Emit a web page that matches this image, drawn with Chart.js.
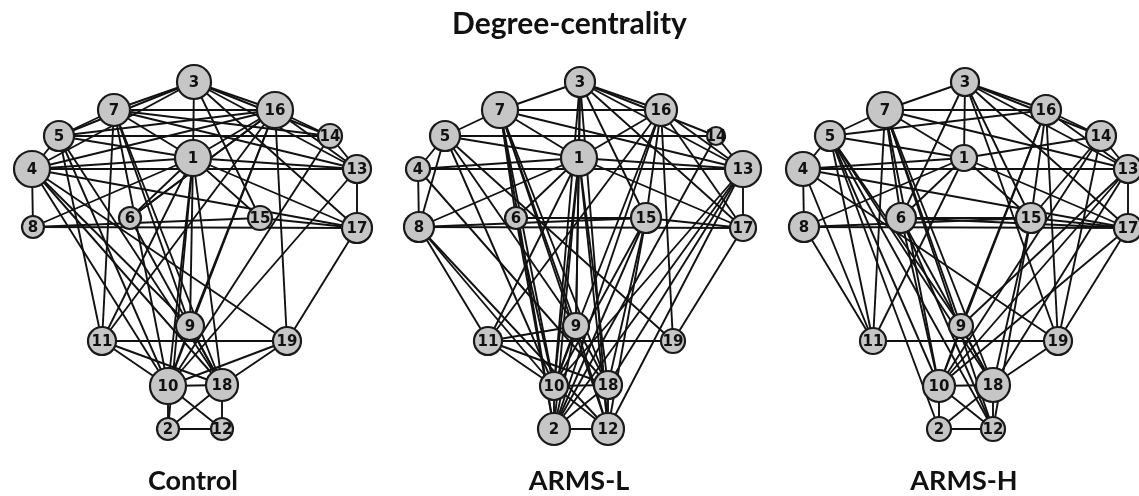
<!DOCTYPE html>
<html>
<head>
    <meta charset="UTF-8">
    <script src="https://cdn.jsdelivr.net/npm/chart.js@4.4.0/dist/chart.umd.min.js"></script>
    <style>
        body {
            margin: 0;
            background: #fff;
            font-family: Lato, sans-serif;
        }
        #page {
            position: relative;
            width: 1139px;
            height: 496px;
            overflow: hidden;
        }
        .panel {
            position: absolute;
            top: 0;
            width: 386px;
            height: 496px;
        }
        #title {
            position: absolute;
            left: 0;
            width: 1139px;
            top: 7px;
            line-height: 1;
            text-align: center;
            font-weight: 700;
            font-size: 30px;
            color: #111;
        }
        .label {
            position: absolute;
            top: 466px;
            width: 386px;
            line-height: 1;
            text-align: center;
            font-weight: 700;
            font-size: 27px;
            color: #111;
        }
    </style>
</head>
<body>
<div id="page">
    <div class="panel" style="left:0px"><canvas id="c0"></canvas></div>
    <div class="panel" style="left:386px"><canvas id="c1"></canvas></div>
    <div class="panel" style="left:771px"><canvas id="c2"></canvas></div>
    <div id="title">Degree-centrality</div>
    <div class="label" style="left:0px">Control</div>
    <div class="label" style="left:386px">ARMS-L</div>
    <div class="label" style="left:771px">ARMS-H</div>
</div>

<script>
// node layout (same for all three groups), node 1..19
const nodeIds = [1, 2, 3, 4, 5, 6, 7, 8, 9, 10, 11, 12, 13, 14, 15, 16, 17, 18, 19];
const layoutX = [193, 168, 194, 32, 59, 130, 114, 33, 190, 168, 102, 222, 357, 330, 260, 275, 357, 222, 287];
const layoutY = [158, 429, 82, 169, 136, 218, 110, 227, 326, 386, 341, 429, 169, 136, 218, 110, 228, 385, 341];

// node size ~ degree centrality
const controlSize = [18, 11, 17, 18, 15, 11, 16, 11, 14, 18, 14, 11, 14, 12, 12, 18, 15, 16, 14];
const armsLSize   = [18, 16, 15, 12, 15, 11, 18, 15, 13, 14, 14, 16, 18, 9, 15, 16, 13, 14, 12];
const armsHSize   = [13, 12, 14, 17, 15, 15, 18, 15, 12, 16, 13, 12, 14, 15, 15, 15, 14, 17, 14];

const controlEdges = [
    [3,7],[3,5],[3,1],[3,16],[3,14],[3,13],[3,17],[3,15],[3,4],
    [7,5],[7,16],[7,1],[7,14],[7,13],[7,11],[7,10],[7,18],[7,9],
    [5,4],[5,16],[5,14],[5,1],[5,11],[5,10],[5,18],
    [4,1],[4,13],[4,8],[4,16],[4,17],[4,9],[4,18],[4,10],[4,19],
    [8,1],[8,17],[8,15],
    [6,1],[6,16],[6,18],
    [1,16],[1,13],[1,17],[1,9],[1,10],[1,18],[1,11],[1,2],
    [16,14],[16,13],[16,6],[16,9],[16,10],[16,19],[16,11],
    [14,13],[14,10],[13,17],[13,10],[15,17],[15,1],[17,19],
    [11,19],[11,10],[11,18],[9,10],[9,18],[19,10],[19,18],
    [10,18],[10,2],[10,12],[18,12],[18,2],[2,12]
];
const armsLEdges = [
    [3,1],[3,16],[3,13],[3,17],[3,15],[3,14],[3,9],[3,10],[3,12],
    [7,5],[7,16],[7,1],[7,13],[7,3],[7,6],[7,10],[7,9],[7,2],[7,12],[7,18],
    [5,4],[5,8],[5,14],[5,1],[5,9],[5,10],[5,19],
    [4,1],[4,8],[4,13],[4,18],
    [8,1],[8,15],[8,17],[8,11],[8,10],[8,12],
    [6,1],[6,15],[6,2],[6,10],
    [1,16],[1,13],[1,17],[1,9],[1,10],[1,2],[1,12],[1,18],[1,11],
    [16,13],[16,17],[16,15],[16,10],[16,2],[16,19],[16,11],
    [14,13],[14,2],
    [13,17],[13,10],[13,2],[13,12],[13,18],
    [15,17],[15,10],[15,2],[15,12],[15,18],
    [17,19],[11,19],[11,10],[11,9],[11,18],
    [9,10],[9,18],[9,2],[9,12],
    [10,18],[10,2],[10,12],[18,2],[18,12],[2,12]
];
const armsHEdges = [
    [3,1],[3,16],[3,14],[3,13],[3,17],[3,15],[3,6],[3,7],[3,19],
    [7,5],[7,16],[7,1],[7,13],[7,6],[7,9],[7,10],[7,18],[7,12],
    [5,4],[5,1],[5,16],[5,11],[5,10],[5,9],[5,2],[5,18],[5,12],
    [4,1],[4,13],[4,17],[4,8],[4,19],[4,11],
    [8,1],[8,15],[8,17],[8,11],
    [6,1],[6,15],[6,17],[6,18],[6,12],[6,10],
    [1,15],[1,17],[1,14],[1,11],
    [16,14],[16,13],[16,15],[16,10],[16,9],
    [14,13],[14,15],[14,10],[14,19],
    [13,17],[13,10],[13,18],[13,9],
    [15,17],[15,12],[15,18],
    [17,19],[17,10],[11,19],[11,7],
    [9,10],[9,18],[19,18],[19,16],
    [10,18],[10,2],[10,12],[18,2],[18,12],[2,12]
];

const groups = [
    { canvas: 'c0', sizes: controlSize, edges: controlEdges },
    { canvas: 'c1', sizes: armsLSize, edges: armsLEdges },
    { canvas: 'c2', sizes: armsHSize, edges: armsHEdges }
];

// node numbers inside the circles
const nodeLabels = {
    id: 'nodeLabels',
    afterDatasetsDraw(chart) {
        const ctx = chart.ctx;
        const meta = chart.getDatasetMeta(0);
        ctx.save();
        ctx.font = 'bold 15px "DejaVu Sans"';
        ctx.fillStyle = '#111';
        ctx.textAlign = 'center';
        ctx.textBaseline = 'middle';
        meta.data.forEach(function (pt, i) {
            ctx.fillText(String(nodeIds[i]), pt.x, pt.y + 1);
        });
        ctx.restore();
    }
};

groups.forEach(function (g) {
    var datasets = [];
    datasets.push({
        type: 'bubble',
        data: nodeIds.map(function (id, i) {
            return { x: layoutX[i], y: layoutY[i], r: g.sizes[i] };
        }),
        backgroundColor: '#c6c6c6',
        borderColor: '#1a1a1a',
        borderWidth: 2.2,
        order: 0
    });
    g.edges.forEach(function (e) {
        var a = e[0] - 1, b = e[1] - 1;
        datasets.push({
            type: 'line',
            data: [{ x: layoutX[a], y: layoutY[a] }, { x: layoutX[b], y: layoutY[b] }],
            borderColor: '#111',
            borderWidth: 1.9,
            pointRadius: 0,
            fill: false,
            order: 1
        });
    });

    new Chart(document.getElementById(g.canvas), {
        type: 'bubble',
        data: { datasets: datasets },
        options: {
            responsive: true,
            maintainAspectRatio: false,
            animation: false,
            layout: { padding: 0, autoPadding: false },
            plugins: {
                legend: { display: false },
                tooltip: { enabled: false }
            },
            scales: {
                x: { type: 'linear', min: 0, max: 386, display: false },
                y: { type: 'linear', min: 0, max: 496, reverse: true, display: false }
            }
        },
        plugins: [nodeLabels]
    });
});
</script>
</body>
</html>
